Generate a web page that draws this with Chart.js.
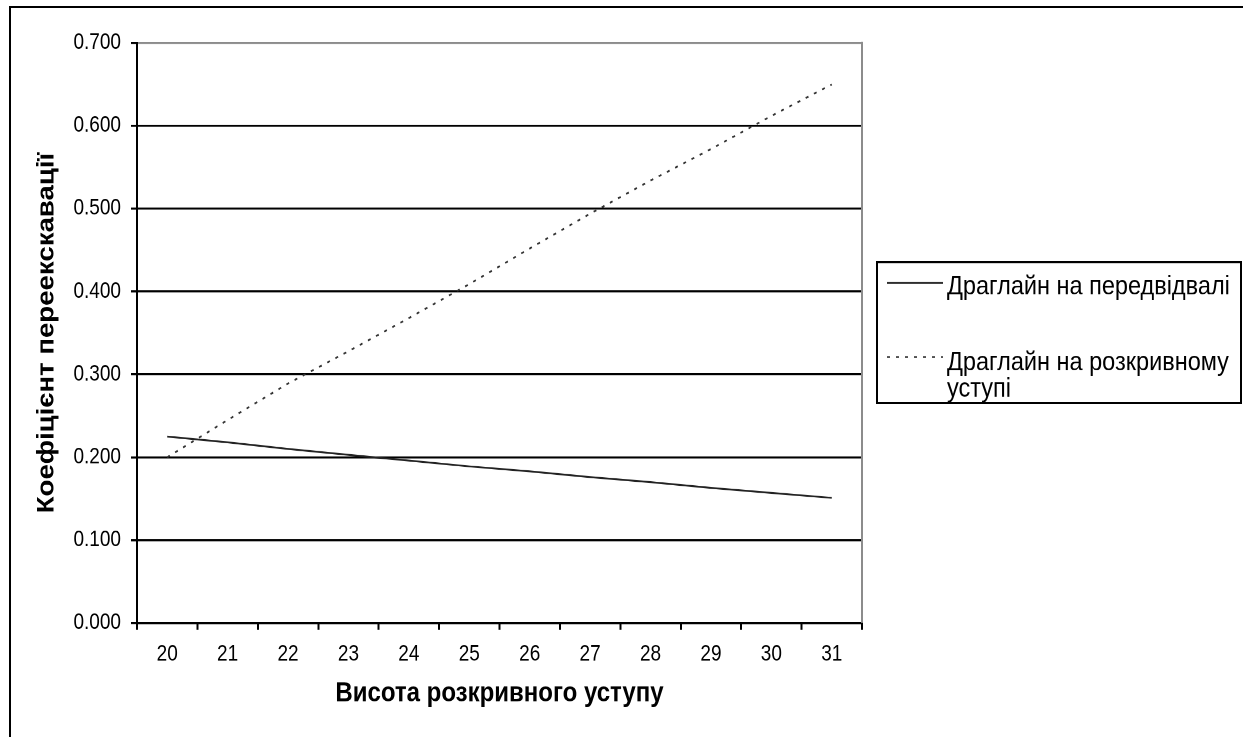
<!DOCTYPE html>
<html>
<head>
<meta charset="utf-8">
<script src="https://cdn.jsdelivr.net/npm/chart.js@4/dist/chart.umd.min.js"></script>
<style>
  html, body { margin: 0; padding: 0; background: #fff; overflow: hidden; }
  #wrap { position: relative; width: 1243px; height: 737px; overflow: hidden; }
  #frame { position: absolute; left: 9px; top: 6px; width: 1300px; height: 800px; border: 2px solid #000; box-sizing: border-box; }
  /* the drawing is laid out on a 1243x641 canvas and stretched to the full page height */
  #stage { position: absolute; left: 0; top: 0; width: 1243px; height: 641px; transform-origin: 0 0; transform: scaleY(1.14977); }
</style>
</head>
<body>
<div id="wrap">
  <div id="frame"></div>
  <div id="stage"><canvas id="c" width="1243" height="641"></canvas></div>
</div>
<script>
// Bench height, m
const heights = ['20', '21', '22', '23', '24', '25', '26', '27', '28', '29', '30', '31'];

// Overburden re-excavation coefficient for each dragline placement
const forebankValues = [0.225, 0.218, 0.210, 0.203, 0.196, 0.189, 0.183, 0.176, 0.170, 0.163, 0.157, 0.151];
const benchValues    = [0.200, 0.245, 0.289, 0.328, 0.368, 0.409, 0.452, 0.494, 0.534, 0.572, 0.612, 0.650];

const seriesNames = ['Драглайн на передвідвалі', 'Драглайн на розкривному уступі'];
const legendLines = [['Драглайн на передвідвалі'], ['Драглайн на розкривному', 'уступі']];

const yTickValues = [0, 0.1, 0.2, 0.3, 0.4, 0.5, 0.6, 0.7];
const xTitle = 'Висота розкривного уступу';
const yTitle = 'Коефіцієнт переекскавації';

const FONT = "'Liberation Sans', Arial, sans-serif";
Chart.defaults.font.family = FONT;
Chart.defaults.color = '#000';

const CANVAS_H = 641;
const PLOT_BOTTOM = 541.8;

// Grey right edge of the plot area
const plotFrame = {
  id: 'plotFrame',
  beforeDatasetsDraw(chart) {
    const { ctx, chartArea: a } = chart;
    ctx.save();
    ctx.strokeStyle = '#8c8c8c';
    ctx.lineWidth = 2;
    ctx.beginPath();
    ctx.moveTo(a.right, a.top - 1);
    ctx.lineTo(a.right, a.bottom);
    ctx.stroke();
    ctx.restore();
  }
};

// Boxed legend to the right of the plot, with wrapped labels
const boxLegend = {
  id: 'boxLegend',
  afterDraw(chart) {
    const { ctx } = chart;
    const box = { x: 877, y: 228, w: 364, h: 122.5 };
    ctx.save();
    ctx.strokeStyle = '#000';
    ctx.lineWidth = 2;
    ctx.strokeRect(box.x, box.y, box.w, box.h);
    ctx.font = '23.5px ' + FONT;
    ctx.fillStyle = '#000';
    ctx.textBaseline = 'alphabetic';
    const rowBase = [256.1, 321.8];
    const sampleY = [246.1, 310.5];
    chart.data.datasets.forEach((ds, i) => {
      ctx.strokeStyle = ds.borderColor;
      ctx.lineWidth = ds.borderWidth;
      ctx.setLineDash(ds.borderDash || []);
      ctx.beginPath();
      ctx.moveTo(887, sampleY[i]);
      ctx.lineTo(943, sampleY[i]);
      ctx.stroke();
      ctx.setLineDash([]);
      legendLines[i].forEach((line, k) => {
        ctx.fillText(line, 947, rowBase[i] + k * 23.2);
      });
    });
    ctx.restore();
  }
};

new Chart(document.getElementById('c'), {
  type: 'line',
  data: {
    labels: heights,
    datasets: [
      {
        label: seriesNames[0],
        data: forebankValues,
        borderColor: '#222',
        borderWidth: 1.6,
        pointRadius: 0,
        tension: 0,
        fill: false
      },
      {
        label: seriesNames[1],
        data: benchValues,
        borderColor: '#333',
        borderWidth: 1.6,
        borderDash: [3, 6],
        pointRadius: 0,
        tension: 0,
        fill: false
      }
    ]
  },
  options: {
    responsive: false,
    animation: false,
    devicePixelRatio: 2,
    layout: { padding: { top: 37.4, right: 381, left: 0, bottom: 0 } },
    plugins: {
      legend: { display: false },
      tooltip: { enabled: false }
    },
    scales: {
      x: {
        offset: true,
        grid: {
          offset: true,
          drawOnChartArea: false,
          tickLength: 6,
          lineWidth: 2,
          color: (c) => (c.index === heights.length ? '#8c8c8c' : '#000')
        },
        border: { color: '#000', width: 2 },
        ticks: { color: '#000', font: { size: 19 }, padding: 10, maxRotation: 0, autoSkip: false },
        title: {
          display: true,
          text: xTitle,
          color: '#000',
          font: { size: 24, weight: 'bold' },
          padding: { top: 0, bottom: 23 }
        },
        afterFit: (s) => { s.height = CANVAS_H - PLOT_BOTTOM; }
      },
      y: {
        min: 0,
        max: 0.7,
        afterBuildTicks: (s) => { s.ticks = yTickValues.map((v) => ({ value: v })); },
        grid: {
          lineWidth: 1.8,
          tickLength: 6,
          tickColor: '#000',
          color: (c) => (c.tick && c.tick.value >= 0.7 ? '#8c8c8c' : '#000')
        },
        border: { color: '#000', width: 2 },
        ticks: {
          color: '#000',
          font: { size: 19 },
          padding: 10,
          callback: (v) => Number(v).toFixed(3)
        },
        title: {
          display: true,
          text: yTitle,
          color: '#000',
          font: { size: 24, weight: 'bold' },
          padding: { top: 32.6, bottom: 0 }
        },
        afterFit: (s) => { s.width = 137; }
      }
    }
  },
  plugins: [plotFrame, boxLegend]
});
</script>
</body>
</html>
